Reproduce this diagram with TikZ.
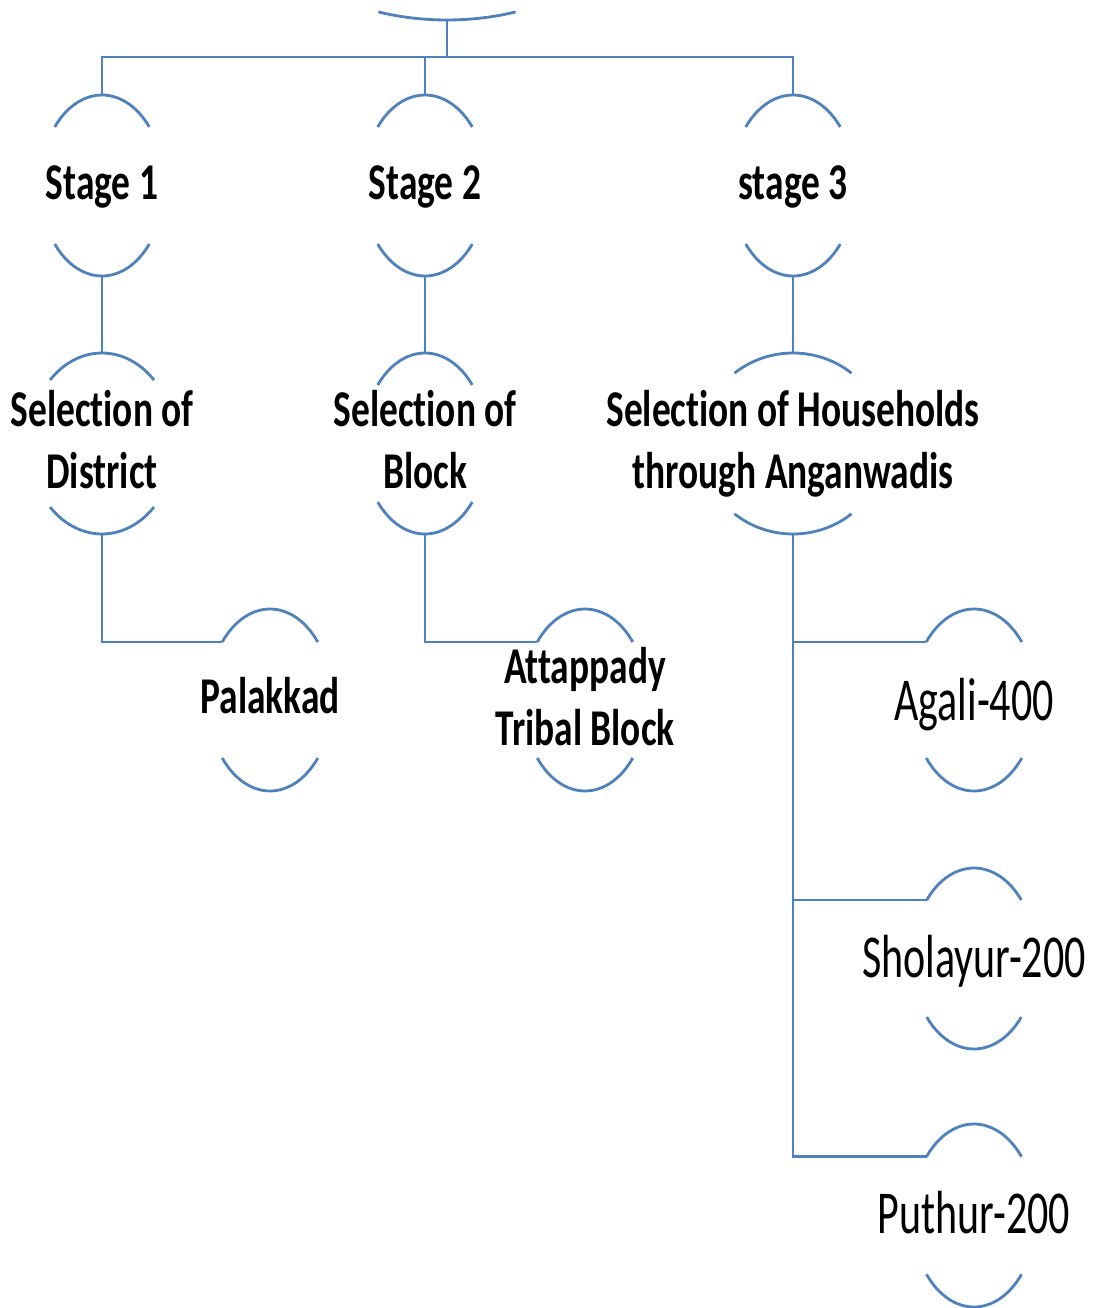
\documentclass[tikz,border=0pt]{standalone}
\usepackage{fontspec}
\setmainfont{Carlito}[Ligatures={NoCommon,NoRequired,NoContextual},Contextuals={NoAlternate}]
\usepackage{graphicx}
\usetikzlibrary{calc}
\definecolor{lnblue}{RGB}{79,129,189}
\newcommand\ystretch[2]{\scalebox{1}[#1]{#2}}
% #1 name, #2 x, #3 y (ellipse centre), #4 x radius, #5 cut angle, #6 y radius
\newcommand\brnode[6]{%
  \coordinate (#1) at (#2,#3);
  \coordinate (#1-t) at (#2,#3+#6);
  \coordinate (#1-b) at (#2,#3-#6);
  \coordinate (#1-l) at ($(#1)+(180-#5:#4 and #6)$);
  \draw[br] (#1) ++(180-#5:#4 and #6) arc[start angle=180-#5, end angle=#5, x radius=#4, y radius=#6];
  \draw[br] (#1) ++(180+#5:#4 and #6) arc[start angle=180+#5, end angle=360-#5, x radius=#4, y radius=#6];
}
\begin{document}
\begin{tikzpicture}[x=1pt,y=1pt,
  br/.style={draw=lnblue, line width=2.8pt},
  ln/.style={draw=lnblue, line width=2.8pt},
  bt/.style={inner sep=0pt, anchor=base, font=\fontsize{37.4}{44.4}\selectfont\bfseries},
  rt/.style={inner sep=0pt, anchor=base, font=\fontsize{42}{50}\selectfont}]
\useasboundingbox[fill=white] (0,0) rectangle (1099,-1308);

% root (only its lower bracket is visible)
\coordinate (root) at (447,70.5);
\coordinate (root-b) at (447,-20);
\draw[br] (root) ++(245.6:166 and 90.5) arc[start angle=245.6, end angle=294.4, x radius=166, y radius=90.5];

% stages
\brnode{s1}{102}{-185.5}{62}{40.3}{90.5}
\brnode{s2}{425}{-185.5}{62}{40.3}{90.5}
\brnode{s3}{793}{-185.5}{62}{40.3}{90.5}
% level 2
\brnode{d}{102}{-443.5}{73}{44.6}{90.5}
\brnode{bl}{425}{-443.5}{62}{40.3}{90.5}
\brnode{h}{793}{-443.5}{93}{51}{90.5}
% level 3
\brnode{pal}{270}{-700}{62}{39.6}{91}
\brnode{att}{585}{-700}{62}{39.6}{91}
\brnode{ag}{974}{-700}{62}{39.6}{91}
\brnode{sh}{974}{-958.5}{62}{40.3}{90.5}
\brnode{pu}{974}{-1215.5}{62}{40}{91.5}

% connectors
\coordinate (bus) at (447,-57);
\draw[ln] (root-b) -- (bus);
\draw[ln] (s1-t) |- (bus) -| (s3-t);
\draw[ln] (s2-t) -- (s2-t |- bus);
\draw[ln] (s1-b) -- (d-t);
\draw[ln] (s2-b) -- (bl-t);
\draw[ln] (s3-b) -- (h-t);
\draw[ln] (d-b) |- (pal-l);
\draw[ln] (bl-b) |- (att-l);
\draw[ln] (h-b) |- (ag-l);
\draw[ln] (h-b) |- (sh-l);
\draw[ln] (h-b) |- (pu-l);

% texts
\node[bt] (t-s1) at (102,-200) {\ystretch{1.38}{Stage 1}};
\node[bt] (t-s2) at (425,-200) {\ystretch{1.38}{Stage 2}};
\node[bt] (t-s3) at (793,-200) {\ystretch{1.38}{stage 3}};
\node[bt] (t-d) at (102,-488) {\ystretch{1.38}{\begin{tabular}[b]{@{}c@{}}Selection of\\District\end{tabular}}};
\node[bt] (t-bl) at (425,-488) {\ystretch{1.38}{\begin{tabular}[b]{@{}c@{}}Selection of\\Block\end{tabular}}};
\node[bt] (t-h) at (793,-488) {\ystretch{1.38}{\begin{tabular}[b]{@{}c@{}}Selection of Households\\through Anganwadis\end{tabular}}};
\node[bt] (t-pal) at (270,-713) {\ystretch{1.38}{Palakkad}};
\node[bt] (t-att) at (585,-745) {\ystretch{1.38}{\begin{tabular}[b]{@{}c@{}}Attappady\\Tribal Block\end{tabular}}};
\node[rt] (t-ag) at (974,-720) {\ystretch{1.45}{Agali-400}};
\node[rt] (t-sh) at (974,-977) {\ystretch{1.45}{Sholayur-200}};
\node[rt] (t-pu) at (974,-1233) {\ystretch{1.45}{Puthur-200}};
\end{tikzpicture}
\end{document}
